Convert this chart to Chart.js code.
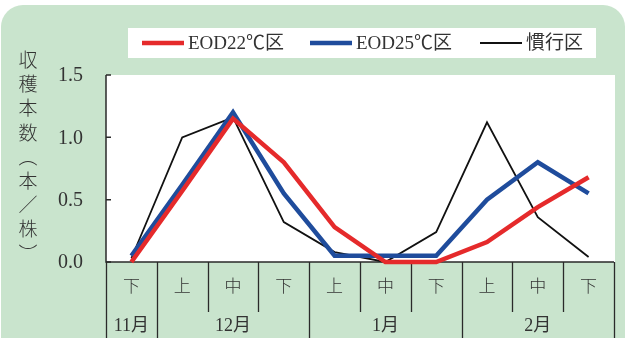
<!DOCTYPE html>
<html>
<head>
<meta charset="utf-8">
<script src="https://cdn.jsdelivr.net/npm/chart.js@4.4.1/dist/chart.umd.min.js"></script>
<style>
	html, body { margin: 0; padding: 0; background: #fff; }
	canvas { display: block; }
</style>
</head>
<body>
<canvas id="chart-harvest" width="627" height="338"></canvas>
<script>
// Data
const periods = ["下", "上", "中", "下", "上", "中", "下", "上", "中", "下"];
const months = ["11月", "12月", "1月", "2月"];
const monthSpans = [1, 3, 3, 3];
const eod22 = [0.0, 0.57, 1.15, 0.8, 0.28, 0.0, 0.0, 0.16, 0.44, 0.68];
const eod25 = [0.05, 0.62, 1.2, 0.55, 0.05, 0.05, 0.05, 0.5, 0.8, 0.55];
const conventional = [0.03, 1.0, 1.16, 0.32, 0.08, 0.0, 0.24, 1.12, 0.36, 0.04];
const yTicks = [0, 0.5, 1.0, 1.5];
const seriesNames = ["EOD22℃区", "EOD25℃区", "慣行区"];
const yTitle = ["収", "穫", "本", "数", "︵", "本", "／", "株", "︶"];

const GREEN = "#c9e4cd";
const TEXT = "#333";
const SERIF = '"Liberation Serif", "DejaVu Serif", serif';
const CJK = '"Liberation Serif", "Noto Sans CJK JP", serif';

// Background, panels, axes, labels
const framePlugin = {
	id: "frame",
	beforeDraw(chart) {
		const { ctx, chartArea: a, width } = chart;
		ctx.save();
		ctx.fillStyle = "#fff";
		ctx.fillRect(0, 0, width, chart.height);
		// green rounded panel
		ctx.fillStyle = GREEN;
		ctx.beginPath();
		ctx.roundRect(1, 5, width - 3, chart.height + 30, 22);
		ctx.fill();
		// legend box
		ctx.fillStyle = "#fff";
		ctx.fillRect(128, 28, 468, 30);
		// plot area
		ctx.fillRect(a.left, a.top, a.right - a.left + 1, a.bottom - a.top);
		ctx.restore();
	},
	beforeDatasetsDraw(chart) {
		const { ctx, chartArea: a, scales } = chart;
		const x = scales.x;
		const y = scales.y;
		const step = x.getPixelForValue(1) - x.getPixelForValue(0);
		const edge = (i) => x.getPixelForValue(i) - step / 2;
		ctx.save();
		ctx.strokeStyle = "#2a2a2a";
		ctx.lineWidth = 1.5;
		// axes
		ctx.beginPath();
		ctx.moveTo(a.left, a.top);
		ctx.lineTo(a.left, a.bottom);
		ctx.lineTo(a.right, a.bottom);
		ctx.stroke();
		// inward y ticks
		ctx.beginPath();
		yTicks.forEach((v) => {
			const py = y.getPixelForValue(v);
			ctx.moveTo(a.left, py);
			ctx.lineTo(a.left + 5, py);
		});
		ctx.stroke();
		// category separators
		ctx.lineWidth = 1.3;
		const monthEdges = [0];
		monthSpans.forEach((s) => monthEdges.push(monthEdges[monthEdges.length - 1] + s));
		ctx.beginPath();
		for (let i = 0; i <= periods.length; i++) {
			const px = Math.round(edge(i)) + 0.5;
			const long = monthEdges.includes(i);
			ctx.moveTo(px, a.bottom);
			ctx.lineTo(px, long ? chart.height : a.bottom + 50);
		}
		ctx.stroke();
		ctx.restore();
	},
	afterDraw(chart) {
		const { ctx, chartArea: a, scales } = chart;
		const x = scales.x;
		const y = scales.y;
		const step = x.getPixelForValue(1) - x.getPixelForValue(0);
		ctx.save();
		ctx.fillStyle = TEXT;
		// y tick labels
		ctx.font = "20px " + SERIF;
		ctx.textAlign = "right";
		ctx.textBaseline = "middle";
		yTicks.forEach((v) => ctx.fillText(v.toFixed(1), 83, y.getPixelForValue(v) + 1));
		// y title (vertical)
		ctx.font = "300 19px " + CJK;
		ctx.textAlign = "center";
		yTitle.forEach((c, i) => ctx.fillText(c, 28, 62 + i * 24.2));
		// period labels
		ctx.font = "300 17px " + CJK;
		periods.forEach((p, i) => ctx.fillText(p, x.getPixelForValue(i), a.bottom + 26));
		// month labels
		let start = 0;
		ctx.font = "18px " + CJK;
		months.forEach((m, i) => {
			const mid = (x.getPixelForValue(start) + x.getPixelForValue(start + monthSpans[i] - 1)) / 2;
			ctx.fillText(m, mid, a.bottom + 64);
			start += monthSpans[i];
		});
		// legend
		ctx.textAlign = "left";
		ctx.font = "19px " + CJK;
		const lx = [142, 310, 480];
		chart.data.datasets.forEach((ds, i) => {
			ctx.strokeStyle = ds.borderColor;
			ctx.lineWidth = ds.borderWidth;
			ctx.beginPath();
			ctx.moveTo(lx[i], 43);
			ctx.lineTo(lx[i] + 42, 43);
			ctx.stroke();
			ctx.fillText(ds.label, lx[i] + 46, 44);
		});
		ctx.restore();
	},
};

const CHART_DATA = {
	labels: periods,
	datasets: [
		{ label: seriesNames[0], data: eod22, borderColor: "#e52a2b", borderWidth: 4.5 },
		{ label: seriesNames[1], data: eod25, borderColor: "#1f4c9c", borderWidth: 4.5 },
		{ label: seriesNames[2], data: conventional, borderColor: "#111", borderWidth: 1.8 },
	],
};

const CHART_CONFIG = {
	type: "line",
	data: CHART_DATA,
	options: {
		responsive: false,
		animation: false,
		layout: {
			padding: { left: 106, top: 75, right: 13, bottom: 76 },
		},
		elements: {
			line: { tension: 0, fill: false, borderJoinStyle: "miter", borderCapStyle: "butt" },
			point: { radius: 0, hoverRadius: 0 },
		},
		datasets: { line: { clip: false } },
		scales: {
			x: { display: false, offset: true },
			y: { display: false, min: 0, max: 1.5 },
		},
		plugins: {
			legend: { display: false },
			tooltip: { enabled: false },
		},
	},
	plugins: [framePlugin],
};

new Chart(document.getElementById("chart-harvest"), CHART_CONFIG);
</script>
</body>
</html>
